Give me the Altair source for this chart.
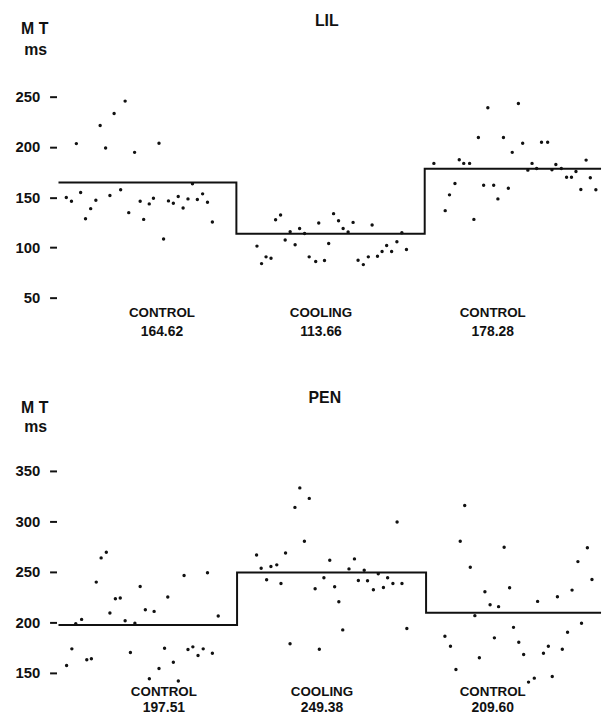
import altair as alt
import pandas as pd

FONT = "Liberation Sans"
INK = "#111111"
PHASES = ["CONTROL", "COOLING", "CONTROL"]

# ---------------- LIL ----------------
LIL_MEANS = [164.62, 113.66, 178.28]
LIL_STEPS = [0, 182.3, 375.3, 556]
LIL_LABEL_X = [106, 269, 445]
LIL_TICKS = [50, 100, 150, 200, 250]

LIL_C1_X = [8, 13.3, 18.3, 22.7, 27.7, 33, 38.3, 42.7, 48.3, 52.7, 57, 63.7, 68.3, 72, 78, 83.7,
            87.3, 93, 97.3, 103, 107.7, 112.7, 117.7, 122.7, 127.7, 132.7, 137.3, 142.3, 147.7,
            152.7, 157.7]
LIL_C1_Y = [149.6, 145.9, 203.3, 154.6, 128.6, 138.6, 146.9, 221.3, 198.9, 151.6, 233.3, 157.3,
            245.6, 134.6, 194.6, 145.9, 127.9, 143.3, 148.9, 203.6, 108.3, 146.3, 143.9, 150.6,
            139.3, 148.3, 163.3, 147.6, 153.3, 144.9, 125.3]
LIL_CO_X = [203.4, 208.1, 212.7, 217.8, 222.5, 227.6, 232.3, 237.4, 242.5, 247.1, 252.2, 256.9,
            263.6, 266.7, 272.6, 276.9, 281.9, 287, 291.7, 296.8, 301.9, 307, 312.4, 317.5, 321.4,
            326.9, 331.6, 336.3, 341.4, 346.8, 351.9, 356.6]
LIL_CO_Y = [101.3, 83.9, 90.6, 89.3, 127.6, 132.3, 107.3, 115.6, 102.6, 118.9, 113.9, 90.6, 85.9,
            124.3, 86.9, 103.9, 133.6, 126.6, 118.9, 115.3, 124.9, 87.3, 82.9, 90.6, 122.3, 91.3,
            95.9, 101.9, 95.9, 105.6, 114.6, 97.9]
LIL_C2_X = [384.7, 396.3, 400.7, 406.3, 410.7, 415.3, 421.3, 425.7, 430.3, 435.7, 440, 446, 450.3,
            456, 461, 465, 471.3, 475.7, 481, 485.3, 490, 495, 501.3, 505.7, 509.7, 515.3, 520.7,
            525.7, 530.3, 535.3, 540.7, 545, 550.7]
LIL_C2_Y = [183.6, 136.6, 152.3, 163.6, 187.3, 183.6, 183.6, 127.9, 209.3, 161.9, 238.9, 161.9,
            148.3, 209.3, 158.9, 194.6, 243.3, 203.6, 176.9, 183.6, 178.6, 204.6, 204.6, 177.3,
            182.6, 178.6, 169.9, 169.9, 175.6, 157.6, 186.9, 169.3, 157.3]

# ---------------- PEN ----------------
PEN_MEANS = [197.51, 249.38, 209.60]
PEN_STEPS = [0, 183, 376.7, 556]
PEN_LABEL_X = [108, 270, 445]
PEN_TICKS = [150, 200, 250, 300, 350]

PEN_C1_X = [8.3, 13.7, 17.7, 23.7, 29, 33.7, 38.7, 43.7, 49, 52.7, 58.3, 63.3, 68.3, 73.7, 78.3,
            83.7, 89, 93.1, 98, 103, 108.7, 112, 117.7, 122.8, 128.7, 132.7, 137.7, 143, 148.3,
            152.7, 157.7, 163.7]
PEN_C1_Y = [157.4, 173.8, 198.8, 203, 163, 164, 239.9, 263.9, 269.5, 209.3, 223.4, 224.1, 201.7,
            170.2, 199.1, 235.6, 212.6, 144.3, 210.9, 154.4, 174.4, 225.1, 160.6, 141.9, 246.4,
            173.2, 175.8, 167.2, 173.8, 249.1, 169.5, 206.4]
PEN_CO_X = [203, 207.7, 213.3, 217.7, 223.7, 228, 232.7, 237.3, 242.3, 247.3, 252, 257, 263, 267.3,
            272, 278, 283, 287.3, 291.3, 297.7, 303.3, 307.3, 313.3, 316.7, 322.7, 327.7, 333,
            337.3, 342.7, 347, 352, 357]
PEN_CO_Y = [266.8, 253.7, 242.2, 255.3, 257, 238.5, 268.8, 178.8, 313.9, 333.2, 280.3, 322.8,
            233.3, 173.5, 244.2, 261.6, 235.3, 220.5, 192.6, 253, 262.9, 241.5, 251.7, 241.2,
            232.3, 248.1, 234.6, 244.2, 238.5, 299.4, 238.5, 193.9]
PEN_C2_X = [396, 401.7, 407.3, 411.7, 416.3, 422, 426.7, 431.3, 437, 442.3, 446.7, 451, 456.7,
            462.3, 466.3, 471.7, 476.7, 481.7, 487.6, 491, 497, 502, 506, 511.3, 516.3, 521.7,
            526.3, 532.3, 536, 542, 546.7]
PEN_C2_Y = [186.3, 176.4, 153.4, 280.3, 315.8, 254.7, 206.7, 165, 230.3, 217.5, 184.7, 215.6,
            274.4, 234.3, 195.1, 180.4, 168.2, 140.9, 144.8, 220.8, 169.5, 176.4, 146.5, 225.4,
            173.5, 190.2, 232, 260.2, 199.1, 274, 242.5]

PLOT_W = 548  # the page body is 597 px wide, so the whole chart must stay within it


def text_layer(df, field, size, x_enc, y_px):
    return alt.Chart(df).mark_text(
        font=FONT, fontSize=size, fontWeight="bold", color=INK, baseline="alphabetic", align="center"
    ).encode(x=x_enc, y=alt.value(y_px), text=f"{field}:N")


def panel(name, xs, ys, means, steps, label_x, ticks, domain, height, ypos):
    pts = pd.DataFrame({"x": sum(xs, []), "y": sum(ys, [])})
    step_df = pd.DataFrame({"x": steps, "y": means + [means[-1]]})
    xsc = alt.Scale(domain=[0, 556], nice=False, zero=False)
    ysc = alt.Scale(domain=domain, nice=False, zero=False)
    yaxis = alt.Axis(values=ticks, title=None, domain=False, grid=False, tickSize=7, tickWidth=2,
                     tickColor=INK, labelFont=FONT, labelFontSize=15, labelFontWeight="bold",
                     labelColor=INK, labelPadding=10, offset=2, minExtent=44, maxExtent=44)
    line = alt.Chart(step_df).mark_line(interpolate="step-after", color=INK, strokeWidth=2).encode(
        x=alt.X("x:Q", scale=xsc, axis=None), y=alt.Y("y:Q", scale=ysc, axis=yaxis))
    points = alt.Chart(pts).mark_circle(size=12, color=INK, opacity=1).encode(
        x=alt.X("x:Q", scale=xsc, axis=None), y=alt.Y("y:Q", scale=ysc, axis=yaxis))
    lab = pd.DataFrame({"x": label_x, "phase": PHASES, "mean": [f"{m:.2f}" for m in means]})
    phase_t = text_layer(lab, "phase", 13.5, alt.X("x:Q", scale=xsc, axis=None), ypos["phase"])
    mean_t = text_layer(lab, "mean", 14, alt.X("x:Q", scale=xsc, axis=None), ypos["mean"])
    title_t = text_layer(pd.DataFrame({"t": [name]}), "t", 16, alt.value(ypos["title_x"]), ypos["title"])
    mt_t = text_layer(pd.DataFrame({"t": ["M T"]}), "t", 16, alt.value(-24), ypos["mt"])
    ms_t = text_layer(pd.DataFrame({"t": ["ms"]}), "t", 16, alt.value(-23), ypos["ms"])
    return alt.layer(line, points, phase_t, mean_t, title_t, mt_t, ms_t).properties(
        width=PLOT_W, height=height)


# plot areas are tall enough to hold every text, so the page height is known exactly
top = panel("LIL", [LIL_C1_X, LIL_CO_X, LIL_C2_X], [LIL_C1_Y, LIL_CO_Y, LIL_C2_Y],
            LIL_MEANS, LIL_STEPS, LIL_LABEL_X, LIL_TICKS, [7.64, 334.73], 332,
            {"phase": 309, "mean": 328, "title": 15, "title_x": 271, "mt": 23, "ms": 44})
bottom = panel("PEN", [PEN_C1_X, PEN_CO_X, PEN_C2_X], [PEN_C1_Y, PEN_CO_Y, PEN_C2_Y],
               PEN_MEANS, PEN_STEPS, PEN_LABEL_X, PEN_TICKS, [107.86, 432.35], 331,
               {"phase": 311, "mean": 327, "title": 15, "title_x": 269, "mt": 25, "ms": 45})

chart = alt.vconcat(top, bottom, spacing=48).properties(
    padding={"left": 5, "top": 0, "right": 0, "bottom": 0}, background="white"
).configure_view(stroke=None)

chart.save("out.html", embed_options={"renderer": "svg", "actions": False})
